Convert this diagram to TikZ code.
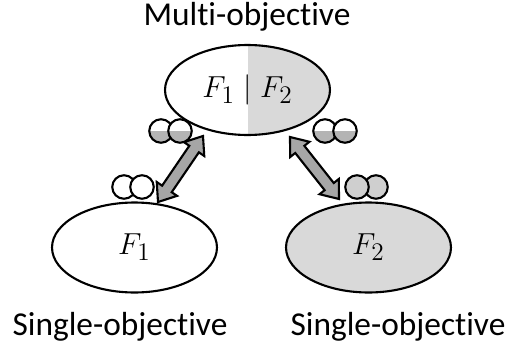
\documentclass[tikz,border=0pt]{standalone}
\usepackage{fontspec}
\setmainfont{Carlito}[Ligatures=CommonOff]
\usepackage{tikz}
\usetikzlibrary{shapes.geometric, calc}

\definecolor{lightfill}{HTML}{D9D9D9}
\definecolor{ballfill}{HTML}{B4B4B4}
\definecolor{ballgray}{HTML}{CFCFCF}
\definecolor{arrowfill}{HTML}{A6A6A6}

% block double arrow between two named coordinates
\newcommand{\dblarrow}[2]{%
  \coordinate (#1-h) at ($(#1)!9pt!(#2)$);
  \coordinate (#2-h) at ($(#2)!9pt!(#1)$);
  \draw[blockarrow] (#1) -- ($(#1-h)!7pt!90:(#2)$) -- ($(#1-h)!3.3pt!90:(#2)$)
    -- ($(#2-h)!3.3pt!-90:(#1)$) -- ($(#2-h)!7pt!-90:(#1)$) -- (#2)
    -- ($(#2-h)!7pt!90:(#1)$) -- ($(#2-h)!3.3pt!90:(#1)$)
    -- ($(#1-h)!3.3pt!-90:(#2)$) -- ($(#1-h)!7pt!-90:(#2)$) -- cycle;
}

\begin{document}
\begin{tikzpicture}[
    x=0.02cm, y=-0.02cm,
    lbl/.style={font=\fontsize{19}{23}\selectfont, inner sep=0pt},
    objell/.style={ellipse, draw, line width=1.2pt, minimum width=3.3cm, minimum height=1.8cm, inner sep=0pt, font=\fontsize{19}{23}\selectfont},
    ball/.style={circle, draw, fill=white, line width=1.2pt, minimum size=0.47cm, inner sep=0pt},
    halfball/.style={ball, path picture={\fill[ballfill] (path picture bounding box.west) rectangle (path picture bounding box.south east);}},
    blockarrow/.style={draw=black, fill=arrowfill, line width=1.2pt, line join=miter}
]
\useasboundingbox (0,0) rectangle (511,352);

% Multi-objective
\node[lbl, anchor=base] (multilbl) at (247,25) {Multi-objective};
\node[objell, path picture={\fill[lightfill] (path picture bounding box.north) rectangle (path picture bounding box.south east);}] (multi) at (247.5,90) {$F_1 \mid F_2$};

% Single-objective
\node[objell] (single1) at (134.5,247.5) {$F_1$};
\node[objell, fill=lightfill] (single2) at (368.5,247.5) {$F_2$};
\node[lbl, anchor=base] (single1lbl) at (120,335) {Single-objective};
\node[lbl, anchor=base] (single2lbl) at (398,335) {Single-objective};

% balls
\node[halfball] (tla) at (161,131) {};
\node[halfball] (tlb) at (180,131) {};
\node[halfball] (tra) at (325,131) {};
\node[halfball] (trb) at (345,131) {};
\node[ball] (bla) at (124,187) {};
\node[ball] (blb) at (142,187) {};
\node[ball, fill=ballgray] (brb) at (376,187) {};
\node[ball, fill=ballgray] (bra) at (357,187) {};

% arrows
\coordinate (lup) at (203,136);
\coordinate (ldown) at (158,202);
\coordinate (rup) at (290,137);
\coordinate (rdown) at (339,199);
\dblarrow{lup}{ldown}
\dblarrow{rup}{rdown}

\end{tikzpicture}
\end{document}
